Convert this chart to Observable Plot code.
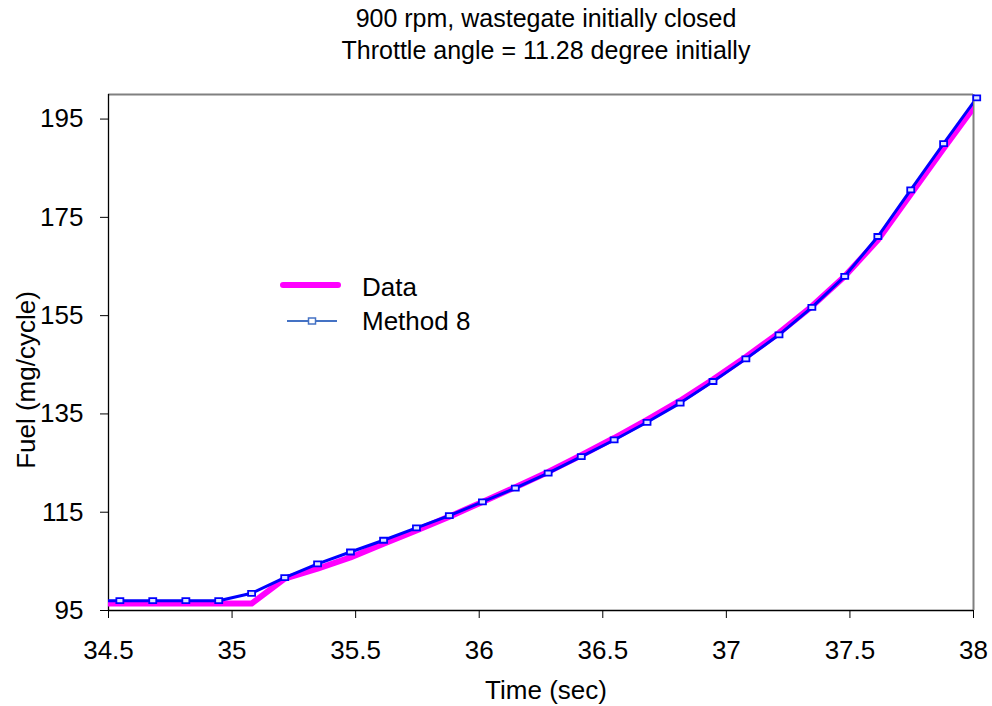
<!DOCTYPE html>
<html>
<head>
<meta charset="utf-8">
<script src="https://cdn.jsdelivr.net/npm/d3@7"></script>
<script src="https://cdn.jsdelivr.net/npm/@observablehq/plot@0.6"></script>
<style>
  html, body { margin: 0; padding: 0; background: #fff; }
  #chart svg { display: block; }
</style>
</head>
<body>
<div id="chart"></div>
<script>
// ---- data ----
const titleLines = ["900 rpm, wastegate initially closed", "Throttle angle = 11.28 degree initially"];
const xLabel = "Time (sec)";
const yLabel = "Fuel (mg/cycle)";
const seriesNames = ["Data", "Method 8"];

const times = [34.413, 34.546, 34.679, 34.813, 34.946, 35.079, 35.213, 35.346, 35.479, 35.613,
  35.746, 35.879, 36.013, 36.146, 36.279, 36.413, 36.546, 36.679, 36.813, 36.946,
  37.079, 37.213, 37.346, 37.479, 37.613, 37.746, 37.879, 38.013];
const dataFuel = [96.4, 96.4, 96.4, 96.4, 96.4, 96.4, 101.5, 103.5, 105.8, 108.6,
  111.3, 114.1, 117.1, 120.1, 123.2, 126.6, 130.1, 133.8, 137.7, 142.0,
  146.6, 151.5, 156.9, 163.0, 170.4, 179.7, 189.0, 198.2];
const method8 = [97.0, 97.0, 97.0, 97.0, 97.0, 98.5, 101.7, 104.5, 106.9, 109.3,
  111.8, 114.3, 117.1, 119.9, 122.95, 126.3, 129.7, 133.3, 137.2, 141.6,
  146.2, 151.1, 156.7, 163.0, 171.1, 180.6, 190.0, 199.3];

const xTicks = [34.5, 35, 35.5, 36, 36.5, 37, 37.5, 38];
const xTickLabels = ["34.5", "35", "35.5", "36", "36.5", "37", "37.5", "38"];
const yTicks = [95, 115, 135, 155, 175, 195];
const yTickLabels = ["95", "115", "135", "155", "175", "195"];
const xDomain = [34.5, 38];
const yDomain = [95, 200];

// ---- tables ----
const dataRows = times.map((t, i) => ({t, v: dataFuel[i]}));
const methodRows = times.map((t, i) => ({t, v: method8[i]}));

const FONT = "'Liberation Sans', Arial, sans-serif";
const MAGENTA = "#ff00ff";
const BLUE = "#0000ff";

const rectSymbol = {
  draw(context) {
    context.moveTo(-3.5, -2.5);
    context.lineTo(3.5, -2.5);
    context.lineTo(3.5, 2.5);
    context.lineTo(-3.5, 2.5);
    context.closePath();
  }
};

const chart = Plot.plot({
  width: 992,
  height: 706,
  marginLeft: 108,
  marginRight: 19,
  marginTop: 94,
  marginBottom: 96,
  style: {fontFamily: FONT, fontSize: "26px", color: "#000", background: "#fff"},
  x: {domain: xDomain, ticks: xTicks},
  y: {domain: yDomain, ticks: yTicks},
  marks: [
    Plot.ruleY([yDomain[1]], {stroke: "#808080", strokeWidth: 2}),
    Plot.ruleX([xDomain[1]], {stroke: "#808080", strokeWidth: 2}),
    Plot.axisX({ticks: xTicks, tickFormat: (d, i) => xTickLabels[i], tickSize: 8, tickPadding: 22,
      fontSize: 26, label: null, stroke: "#000"}),
    Plot.axisY({ticks: yTicks, tickFormat: (d, i) => yTickLabels[i], tickSize: 8, tickPadding: 17,
      fontSize: 26, label: null, stroke: "#000"}),
    Plot.ruleX([xDomain[0]], {stroke: "#000", strokeWidth: 1.3}),
    Plot.ruleY([yDomain[0]], {stroke: "#000", strokeWidth: 1.3}),
    Plot.line(dataRows, {x: "t", y: "v", stroke: MAGENTA, strokeWidth: 6, strokeLinejoin: "round", clip: true}),
    Plot.line(methodRows, {x: "t", y: "v", stroke: BLUE, strokeWidth: 3, strokeLinejoin: "round", clip: true}),
    Plot.dot(methodRows.filter(d => d.t >= xDomain[0]), {x: "t", y: "v", symbol: rectSymbol, r: 3,
      stroke: BLUE, strokeWidth: 1.8, fill: "#dde4ff"})
  ]
});

document.getElementById("chart").appendChild(chart);

const svg = d3.select(chart);

// title
const title = svg.append("g").attr("font-family", FONT).attr("font-size", 25).attr("fill", "#000")
  .attr("text-anchor", "middle");
title.append("text").attr("x", 546).attr("y", 18).attr("dy", "0.35em").text(titleLines[0]);
title.append("text").attr("x", 546).attr("y", 50).attr("dy", "0.35em").text(titleLines[1]);

// axis titles
svg.append("text").attr("font-family", FONT).attr("font-size", 26).attr("text-anchor", "middle")
  .attr("x", 546).attr("y", 690).attr("dy", "0.35em").text(xLabel);
svg.append("text").attr("font-family", FONT).attr("font-size", 26).attr("text-anchor", "middle")
  .attr("transform", "translate(26,380) rotate(-90)").attr("dy", "0.35em").text(yLabel);

// legend
const lg = svg.append("g").attr("font-family", FONT).attr("font-size", 26).attr("fill", "#000")
  .attr("text-anchor", "start");
lg.append("line").attr("x1", 283).attr("x2", 338).attr("y1", 285).attr("y2", 285)
  .attr("stroke", MAGENTA).attr("stroke-width", 6).attr("stroke-linecap", "round");
lg.append("text").attr("x", 362).attr("y", 287).attr("dy", "0.35em").text(seriesNames[0]);
lg.append("line").attr("x1", 287).attr("x2", 337).attr("y1", 321).attr("y2", 321)
  .attr("stroke", "#4472c4").attr("stroke-width", 2);
lg.append("rect").attr("x", 308.5).attr("y", 318).attr("width", 7).attr("height", 6)
  .attr("stroke", "#4472c4").attr("stroke-width", 1.5).attr("fill", "white");
lg.append("text").attr("x", 362).attr("y", 321).attr("dy", "0.35em").text(seriesNames[1]);
</script>
</body>
</html>
